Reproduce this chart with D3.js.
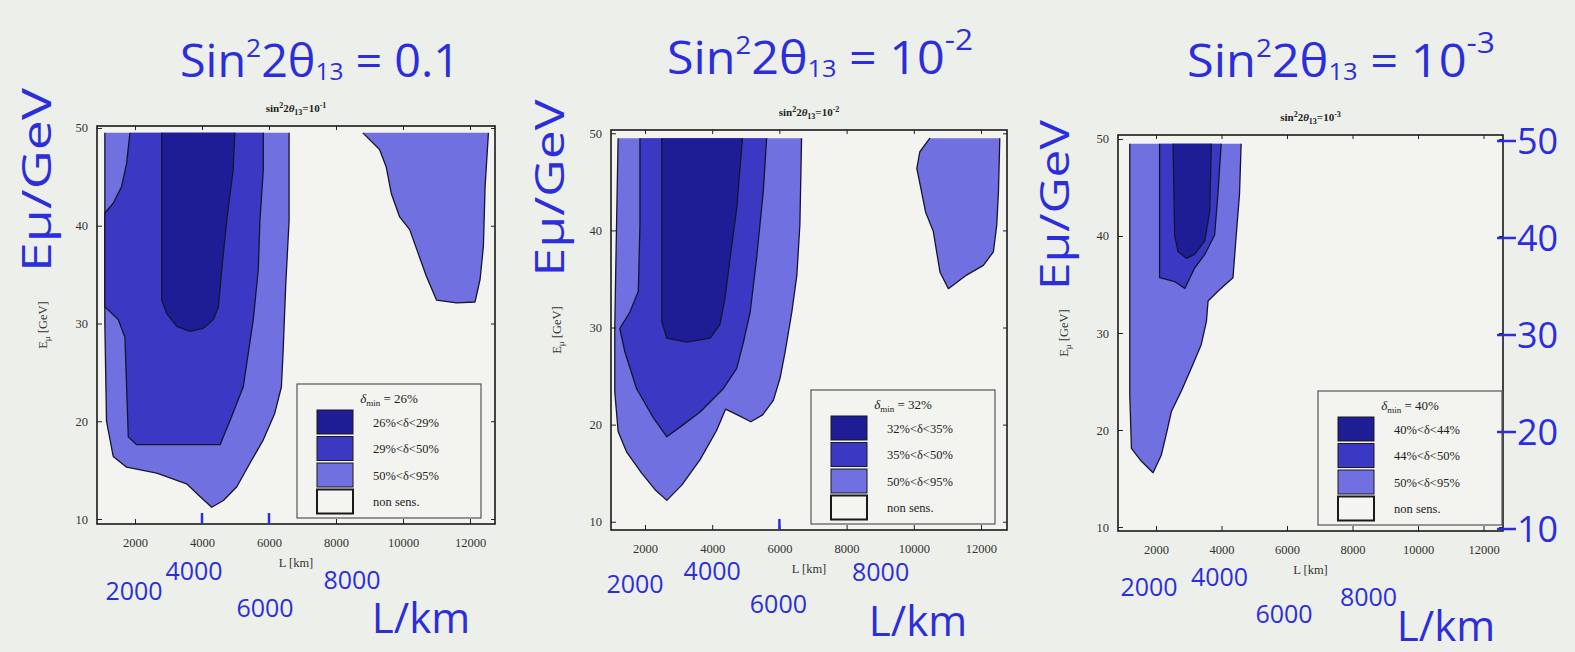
<!DOCTYPE html>
<html>
<head>
<meta charset="utf-8">
<script src="https://cdn.jsdelivr.net/npm/d3@7"></script>
<style>
  body { margin: 0; background: #edf0ea; }
  svg { display: block; }
</style>
</head>
<body>
<svg id="chart" width="1575" height="652"></svg>
<script>
// axis ticks
const lTicks = [2000, 4000, 6000, 8000, 10000, 12000];
const eTicks = [10, 20, 30, 40, 50];
const handLTicks = [2000, 4000, 6000, 8000];   // numbers written under each plot
const handETicks = [50, 40, 30, 20, 10];        // written on the right of plot 3

// contour regions, points are [L km, E GeV]
// sin^2 2θ13 = 0.1
const p1Light = [[1100,49.5],[6600,49.5],[6600,40.5],[6500,34],[6420,27],[6370,23.5],[6170,20.8],[5830,18.1],[5430,15.7],[5040,13.3],[4640,11.9],[4290,11.2],[3940,12.3],[3540,13.6],[2650,14.7],[1750,15.3],[1350,16.4],[1150,20],[1100,30],[1100,40]];
const p1LightFar = [[8800,49.5],[12550,49.5],[12450,44],[12400,37.9],[12300,34.5],[12150,32.2],[11600,32.1],[11000,32.4],[10700,34.8],[10450,37.2],[10200,39.6],[9900,40.9],[9650,43.3],[9500,46],[9300,47.8]];
const p1Mid = [[1850,49.5],[5830,49.5],[5830,45.7],[5730,40.6],[5680,35.5],[5530,30.4],[5230,23.5],[4840,20.1],[4540,17.6],[2050,17.6],[1800,18.4],[1750,23.5],[1700,28.6],[1500,30.4],[1100,31.7],[1100,41.3],[1350,42.3],[1600,44],[1750,46.4]];
const p1Dark = [[2800,49.5],[4980,49.5],[4930,45.7],[4740,40.6],[4590,35.5],[4490,31.7],[4340,30.4],[4040,29.5],[3640,29.2],[3250,29.7],[2950,31],[2800,32.4]];

// sin^2 2θ13 = 1e-2
const p2Light = [[1200,49.5],[6660,49.5],[6610,40.6],[6520,35.4],[6370,31.6],[6170,27.5],[6020,24.8],[5820,22.5],[5500,21],[5150,20.3],[4750,21],[4400,21.6],[4130,19.4],[3640,16.4],[3100,13.8],[2650,12.2],[2300,13.3],[1900,15],[1450,17.2],[1200,19.3],[1100,23.4],[1100,30],[1150,40]];
const p2LightFar = [[10480,49.5],[12560,49.5],[12520,44],[12470,40.6],[12370,37.8],[12070,36.4],[11570,35.4],[11030,34],[10780,35.7],[10680,37.8],[10580,39.9],[10350,41.9],[10230,44],[10090,46.4],[10180,48.1]];
const p2Mid = [[1850,49.5],[5620,49.5],[5520,44],[5320,37.1],[5130,31.6],[4930,28.5],[4730,25.8],[4330,23.7],[3640,21.3],[3140,20],[2650,18.75],[2250,20.7],[1750,23.7],[1400,27.5],[1250,29.9],[1550,31.6],[1800,33.7],[1850,40.6]];
const p2Dark = [[2500,49.5],[4900,49.5],[4730,42.3],[4530,37.1],[4380,33],[4230,30.3],[3940,28.9],[3240,28.5],[2650,28.9],[2500,30.6]];

// sin^2 2θ13 = 1e-3
const p3Light = [[1200,49.5],[4600,49.5],[4550,44.3],[4450,40.1],[4350,35.7],[3890,34.3],[3590,33.3],[3540,31.2],[3380,28.8],[3080,26.4],[2770,24],[2470,21.9],[2310,19.5],[2160,17.4],[1910,15.6],[1550,16.8],[1250,18.1],[1200,23.6]];
const p3Mid = [[2110,49.5],[3990,49.5],[3890,44.3],[3790,40.1],[3490,38.1],[3180,36.7],[2880,34.6],[2570,35.3],[2110,35.7]];
const p3Dark = [[2520,49.5],[3690,49.5],[3640,42.5],[3490,39.5],[3180,38.1],[2930,37.7],[2670,38.4],[2570,40.1]];

// text
const titleValues = ["0.1", "10", "10"];
const titleExps = [null, "-2", "-3"];
const subtitleExps = ["-1", "-2", "-3"];
const deltaMin = ["26%", "32%", "40%"];
const legendRows = [
  ["26%<δ<29%", "29%<δ<50%", "50%<δ<95%", "non sens."],
  ["32%<δ<35%", "35%<δ<50%", "50%<δ<95%", "non sens."],
  ["40%<δ<44%", "44%<δ<50%", "50%<δ<95%", "non sens."]
];
const handMarked = [[4000, 6000], [6000], []];

const fills = ["#1f1d95", "#3b38c4", "#7170e0", "#f4f5f1"];
const ink = "#2c2edc";
const hand = "'Open Sans', 'DejaVu Sans', sans-serif";
const serif = "'Liberation Serif', 'DejaVu Serif', serif";

const regions = [
  [p1Light, p1LightFar, p1Mid, p1Dark],
  [p2Light, p2LightFar, p2Mid, p2Dark],
  [p3Light, null, p3Mid, p3Dark]
];

// layout of the three plots
const layout = [
  { left: 97, right: 495, top: 126, bottom: 524, lDom: [866, 12746], eDom: [9.49, 50.2],
    title: [180, 77, 280], eLab: [37, 180, 184], km: [421, 633],
    numDx: [-1, -8, -4, 16], numY: [600, 580, 617, 589] },
  { left: 611, right: 1007, top: 130, bottom: 530, lDom: [988, 12774], eDom: [9.15, 50.34],
    title: [667, 74, 306], eLab: [550, 188, 177], km: [918, 636],
    numDx: [-10, 0, -1, 34], numY: [593, 580, 613, 581] },
  { left: 1118, right: 1503, top: 135, bottom: 531, lDom: [840, 12595], eDom: [9.59, 50.41],
    title: [1187, 77, 308], eLab: [1055, 205, 170], km: [1446, 641],
    numDx: [-7, -2, -3, 16], numY: [596, 586, 623, 606] }
];

const svg = d3.select("#chart");

layout.forEach((p, i) => {
  const x = d3.scaleLinear().domain(p.lDom).range([p.left, p.right]);
  const y = d3.scaleLinear().domain(p.eDom).range([p.bottom, p.top]);
  const g = svg.append("g");

  g.append("rect")
    .attr("x", p.left).attr("y", p.top)
    .attr("width", p.right - p.left).attr("height", p.bottom - p.top)
    .attr("fill", "#f3f4ef");

  const area = d3.line().x(d => x(d[0])).y(d => y(d[1]));
  // fill order: light, light far, mid, dark
  const fillIdx = [2, 2, 1, 0];
  regions[i].forEach((pts, k) => {
    if (!pts) return;
    g.append("path")
      .attr("d", area(pts) + "Z")
      .attr("fill", fills[fillIdx[k]]);
    // outline without the top edge
    g.append("path")
      .attr("d", area([...pts.slice(1), pts[0]]))
      .attr("fill", "none")
      .attr("stroke", "#151530")
      .attr("stroke-width", 1.3)
      .attr("stroke-linejoin", "round");
  });

  // axes
  g.append("g").attr("transform", `translate(0,${p.bottom})`)
    .call(d3.axisBottom(x).tickValues(lTicks).tickSize(-5).tickPadding(14).tickFormat(d3.format("d")));
  g.append("g").attr("transform", `translate(${p.left},0)`)
    .call(d3.axisLeft(y).tickValues(eTicks).tickSize(-5).tickPadding(9));
  g.append("g").attr("transform", `translate(0,${p.top})`)
    .call(d3.axisTop(x).tickValues(lTicks).tickSize(-4).tickFormat(""));
  g.append("g").attr("transform", `translate(${p.right},0)`)
    .call(d3.axisRight(y).tickValues(eTicks).tickSize(-4).tickFormat(""));
  g.selectAll(".domain").remove();
  g.selectAll(".tick line").attr("stroke", "#222");
  g.selectAll(".tick text").attr("font-family", serif).attr("font-size", 12.5).attr("fill", "#333");

  g.append("rect")
    .attr("x", p.left).attr("y", p.top)
    .attr("width", p.right - p.left).attr("height", p.bottom - p.top)
    .attr("fill", "none").attr("stroke", "#1a1a1a").attr("stroke-width", 1.6);

  // blue hand-drawn tick marks
  g.selectAll(".hmark").data(handMarked[i]).join("line")
    .attr("x1", d => x(d)).attr("x2", d => x(d))
    .attr("y1", p.bottom - 11).attr("y2", p.bottom)
    .attr("stroke", ink).attr("stroke-width", 2.5);

  // printed labels
  const st = g.append("text")
    .attr("x", (p.left + p.right) / 2).attr("y", p.top - 14)
    .attr("text-anchor", "middle").attr("font-family", serif)
    .attr("font-size", 11).attr("font-weight", "bold").attr("fill", "#222");
  st.append("tspan").text("sin");
  st.append("tspan").attr("font-size", 8).attr("dy", -4).text("2");
  st.append("tspan").attr("dy", 4).text("2");
  st.append("tspan").attr("font-style", "italic").text("θ");
  st.append("tspan").attr("font-size", 8).attr("dy", 3).text("13");
  st.append("tspan").attr("dy", -3).text("=10");
  st.append("tspan").attr("font-size", 8).attr("dy", -4).text(subtitleExps[i]);

  g.append("text")
    .attr("x", (p.left + p.right) / 2).attr("y", p.bottom + 43)
    .attr("text-anchor", "middle").attr("font-family", serif)
    .attr("font-size", 12.5).attr("fill", "#333").text("L [km]");

  const ey = g.append("text")
    .attr("transform", `translate(${p.left - 50},${(p.top + p.bottom) / 2}) rotate(-90)`)
    .attr("text-anchor", "middle").attr("font-family", serif)
    .attr("font-size", 12.5).attr("fill", "#333");
  ey.append("tspan").text("E");
  ey.append("tspan").attr("font-size", 9).attr("dy", 3).text("μ");
  ey.append("tspan").attr("dy", -3).text(" [GeV]");

  // legend
  const lx = p.left + 200, ly = p.bottom - 140, lw = 184, lh = 134;
  const lg = g.append("g");
  lg.append("rect").attr("x", lx).attr("y", ly).attr("width", lw).attr("height", lh)
    .attr("fill", "#f3f4f0").attr("stroke", "#555").attr("stroke-width", 1.2);
  const lt = lg.append("text").attr("x", lx + lw / 2).attr("y", ly + 19)
    .attr("text-anchor", "middle").attr("font-family", serif).attr("font-size", 13).attr("fill", "#222");
  lt.append("tspan").attr("font-style", "italic").text("δ");
  lt.append("tspan").attr("font-size", 9).attr("dy", 3).text("min");
  lt.append("tspan").attr("dy", -3).text(" = " + deltaMin[i]);
  legendRows[i].forEach((lab, r) => {
    const cy = ly + 38 + r * 26.5;
    lg.append("rect").attr("x", lx + 20).attr("y", cy - 12).attr("width", 36).attr("height", 24)
      .attr("fill", fills[r]).attr("stroke", "#1a1a1a").attr("stroke-width", r === 3 ? 2 : 1);
    lg.append("text").attr("x", lx + 76).attr("y", cy + 4.5)
      .attr("font-family", serif).attr("font-size", 12.5).attr("fill", "#222").text(lab);
  });

  // handwritten annotations
  const t = svg.append("text")
    .attr("x", p.title[0]).attr("y", p.title[1])
    .attr("font-family", hand).attr("font-size", 46).attr("fill", ink)
    .attr("textLength", p.title[2]).attr("lengthAdjust", "spacingAndGlyphs");
  t.append("tspan").text("Sin");
  t.append("tspan").attr("font-size", 26).attr("dy", -20).text("2");
  t.append("tspan").attr("dy", 20).text("2θ");
  t.append("tspan").attr("font-size", 24).attr("dy", 3).text("13");
  t.append("tspan").attr("dy", -3).text(" = " + titleValues[i]);
  if (titleExps[i]) t.append("tspan").attr("font-size", 30).attr("dy", -24).text(titleExps[i]);

  svg.append("text")
    .attr("transform", `translate(${p.eLab[0] + 14},${p.eLab[1]}) rotate(-90)`)
    .attr("text-anchor", "middle").attr("font-family", hand).attr("font-size", 40).attr("fill", ink)
    .attr("textLength", p.eLab[2]).attr("lengthAdjust", "spacingAndGlyphs")
    .text("Eμ/GeV");

  svg.selectAll(null).data(handLTicks).join("text")
    .attr("x", (d, k) => x(d) + p.numDx[k]).attr("y", (d, k) => p.numY[k])
    .attr("text-anchor", "middle").attr("font-family", hand).attr("font-size", 25).attr("fill", ink)
    .text(d => d);

  svg.append("text")
    .attr("x", p.km[0]).attr("y", p.km[1])
    .attr("text-anchor", "middle").attr("font-family", hand).attr("font-size", 42).attr("fill", ink)
    .text("L/km");

  if (i === 2) {
    svg.selectAll(null).data(handETicks).join("line")
      .attr("x1", p.right - 6).attr("x2", p.right + 13)
      .attr("y1", d => y(d) + 2).attr("y2", d => y(d) + 2)
      .attr("stroke", ink).attr("stroke-width", 2.5);
    svg.selectAll(null).data(handETicks).join("text")
      .attr("x", p.right + 14).attr("y", d => y(d) + 15)
      .attr("font-family", hand).attr("font-size", 36).attr("fill", ink)
      .text(d => d);
  }
});
</script>
</body>
</html>
